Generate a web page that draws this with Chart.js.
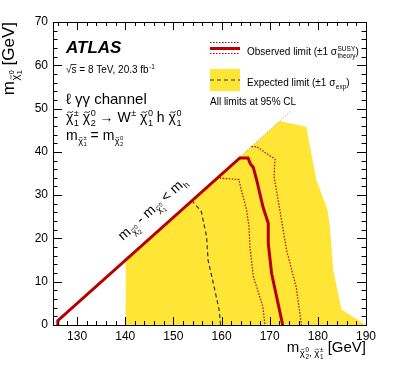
<!DOCTYPE html>
<html>
<head>
<meta charset="utf-8">
<script src="https://cdn.jsdelivr.net/npm/chart.js@4.4.0/dist/chart.umd.min.js"></script>
<style>
  html, body { margin: 0; padding: 0; background: #fff; }
  #wrap { width: 407px; height: 370px; }
</style>
</head>
<body>
<div id="wrap"><canvas id="limit" width="407" height="370"></canvas></div>
<script>
// axis ticks (GeV)
var xTicks = [130, 140, 150, 160, 170, 180, 190];
var yTicks = [0, 10, 20, 30, 40, 50, 60, 70];

// kinematic boundary m(chi2) - m(chi1) = m_h, dotted part
var diagX = [125, 174.5];
var diagY = [0, 49.5];

// observed limit
var obsX = [126, 126, 163.8, 165.5, 166, 166.6, 167.3, 168.6, 169.7, 169.7, 170.4, 172.7];
var obsY = [0, 1, 38.6, 38.6, 37.2, 36.4, 33.5, 27.3, 23.5, 18.9, 11.9, 0];

// observed -1 sigma theory
var obsDnX = [159, 163.6, 164.1, 165.2, 165.7, 165.9, 166.6, 168.6, 169];
var obsDnY = [34, 33.6, 31.2, 26.6, 22.7, 18.1, 11.2, 4.2, 0];

// observed +1 sigma theory
var obsUpX = [166.2, 167.3, 171.1, 170.9, 172.1, 173.5, 175.5, 176.6];
var obsUpY = [41.2, 41.2, 38.3, 34.3, 26.6, 17.3, 8.8, 0];

// expected limit
var expX = [153.8, 155.8, 156.9, 157.2, 158.6, 159.5, 159.8];
var expY = [28.8, 26.2, 20.4, 15, 8.1, 3.5, 0];

// expected +-1 sigma band (upper edge, filled down to 0)
var bandX = [140.1, 140, 139.3, 172.1, 177.6, 179.7, 182, 182.5, 183.2, 184.9, 190];
var bandY = [0, 5, 14.3, 47.1, 45.8, 33.5, 26.6, 22.7, 12.7, 3.6, 0];

var FONT = "'Liberation Sans', Arial, Helvetica, sans-serif";
var RED = '#b50000';
var YELLOW = '#ffe535';

function pts(xs, ys) {
    return xs.map(function(x, i) { return {x: x, y: ys[i]}; });
}

// draws text with nested super/subscripts, returns width
// parts: 'text' | {chi:1} | {sup:[...], sub:[...]}
function rich(ctx, parts, x, y, size, draw) {
    var w = 0;
    parts.forEach(function(p) {
        ctx.font = size + 'px ' + FONT;
        if (typeof p === 'string') {
            if (draw) ctx.fillText(p, x + w, y);
            w += ctx.measureText(p).width;
        } else if (p.chi) {
            var cw = ctx.measureText('χ').width;
            if (draw) {
                ctx.fillText('χ', x + w, y);
                // tilde on top
                var x0 = x + w + cw * 0.2, x1 = x + w + cw * 0.95;
                var ty = y - size * 0.72, amp = size * 0.06;
                ctx.save();
                ctx.strokeStyle = ctx.fillStyle;
                ctx.lineWidth = Math.max(0.6, size * 0.06);
                ctx.setLineDash([]);
                ctx.beginPath();
                ctx.moveTo(x0, ty + amp);
                ctx.bezierCurveTo(x0 + (x1 - x0) * 0.3, ty - amp * 2, x0 + (x1 - x0) * 0.7, ty + amp * 3, x1, ty - amp);
                ctx.stroke();
                ctx.restore();
            }
            w += cw;
        } else {
            var s = size * 0.65, w1 = 0, w2 = 0;
            if (p.sup) w1 = rich(ctx, p.sup, x + w + 0.5, y - size * 0.42, s, draw);
            if (p.sub) w2 = rich(ctx, p.sub, x + w + 0.5, y + size * 0.28, s, draw);
            w += Math.max(w1, w2) + 0.5;
        }
    });
    return w;
}

var CHI = {chi: 1};

var decoPlugin = {
    id: 'atlasDeco',
    afterDraw: function(chart) {
        var ctx = chart.ctx, a = chart.chartArea;
        var xs = chart.scales.x, ys = chart.scales.y;
        ctx.save();
        ctx.fillStyle = '#000';
        ctx.strokeStyle = '#000';
        ctx.textBaseline = 'alphabetic';
        ctx.textAlign = 'left';

        // frame + inward ticks on all sides
        ctx.lineWidth = 1;
        ctx.beginPath();
        var v, p, len;
        for (v = 126; v <= 190; v += 2) {
            p = Math.round(xs.getPixelForValue(v)) + 0.5;
            len = (v % 10 === 0) ? 8 : 4;
            ctx.moveTo(p, a.bottom); ctx.lineTo(p, a.bottom - len);
            ctx.moveTo(p, a.top); ctx.lineTo(p, a.top + len);
        }
        for (v = 0; v <= 70; v += 2) {
            p = Math.round(ys.getPixelForValue(v)) + 0.5;
            len = (v % 10 === 0) ? 9 : 4.5;
            ctx.moveTo(a.left, p); ctx.lineTo(a.left + len, p);
            ctx.moveTo(a.right, p); ctx.lineTo(a.right - len, p);
        }
        ctx.stroke();
        ctx.strokeRect(Math.round(a.left) + 0.5, Math.round(a.top) + 0.5,
            Math.round(a.right - a.left), Math.round(a.bottom - a.top));

        // ATLAS label
        ctx.font = 'italic bold 17px ' + FONT;
        ctx.fillText('ATLAS', 66, 53);

        // sqrt(s) line
        var sw = rich(ctx, ['√'], 66, 73, 10, true);
        var s2 = rich(ctx, ['s'], 66 + sw, 73, 10, true);
        ctx.beginPath();
        ctx.lineWidth = 0.8;
        ctx.moveTo(66 + sw - 1, 64.5); ctx.lineTo(66 + sw + s2, 64.5);
        ctx.stroke();
        rich(ctx, [' = 8 TeV, 20.3 fb', {sup: ['-1']}], 66 + sw + s2, 73, 10, true);

        rich(ctx, ['ℓ γγ channel'], 66, 104, 15, true);
        rich(ctx, [CHI, {sup: ['±'], sub: ['1']}, ' ', CHI, {sup: ['0'], sub: ['2']},
            ' → W', {sup: ['±']}, ' ', CHI, {sup: ['0'], sub: ['1']}, ' h ', CHI, {sup: ['0'], sub: ['1']}],
            66, 122, 14, true);
        rich(ctx, ['m', {sub: [CHI, {sup: ['±'], sub: ['1']}]}, ' = m', {sub: [CHI, {sup: ['0'], sub: ['2']}]}],
            66, 140, 14, true);

        // legend
        ctx.lineWidth = 3;
        ctx.strokeStyle = RED;
        ctx.beginPath(); ctx.moveTo(210, 48.5); ctx.lineTo(240, 48.5); ctx.stroke();
        ctx.lineWidth = 1.2;
        ctx.setLineDash([1.5, 1.5]);
        ctx.beginPath();
        ctx.moveTo(210, 42.5); ctx.lineTo(240, 42.5);
        ctx.moveTo(210, 53.5); ctx.lineTo(240, 53.5);
        ctx.stroke();
        ctx.fillStyle = YELLOW;
        ctx.fillRect(210, 69, 30, 22);
        ctx.strokeStyle = '#333';
        ctx.setLineDash([4, 3]);
        ctx.beginPath(); ctx.moveTo(210, 80); ctx.lineTo(240, 80); ctx.stroke();
        ctx.setLineDash([]);
        ctx.fillStyle = '#000';
        rich(ctx, ['Observed limit (±1 σ', {sup: ['SUSY'], sub: ['theory']}, ')'], 247, 55, 10, true);
        rich(ctx, ['Expected limit (±1 σ', {sub: ['exp']}, ')'], 247, 86, 10, true);
        rich(ctx, ['All limits at 95% CL'], 210, 105, 10, true);

        // kinematic label along the diagonal
        var p1x = xs.getPixelForValue(140), p1y = ys.getPixelForValue(15);
        var p2x = xs.getPixelForValue(160), p2y = ys.getPixelForValue(35);
        var ang = Math.atan2(p2y - p1y, p2x - p1x);
        ctx.save();
        ctx.translate(123, 241);
        ctx.rotate(ang);
        rich(ctx, ['m', {sub: [CHI, {sup: ['0'], sub: ['2']}]}, ' - m', {sub: [CHI, {sup: ['0'], sub: ['1']}]},
            ' < m', {sub: ['h']}], 0, 0, 14, true);
        ctx.restore();

        // axis titles
        var xt = ['m', {sub: [CHI, {sup: ['0'], sub: ['2']}, ', ', CHI, {sup: ['±'], sub: ['1']}]}, ' [GeV]'];
        var xw = rich(ctx, xt, 0, 0, 15, false);
        rich(ctx, xt, a.right - xw, 352, 15, true);

        var yt = ['m', {sub: [CHI, {sup: ['0'], sub: ['1']}]}, ' [GeV]'];
        var yw = rich(ctx, yt, 0, 0, 17, false);
        ctx.save();
        ctx.translate(14, a.top + yw);
        ctx.rotate(-Math.PI / 2);
        rich(ctx, yt, 0, 0, 17, true);
        ctx.restore();

        ctx.restore();
    }
};

var line = function(label, xs, ys, color, width, dash) {
    return {
        label: label,
        data: pts(xs, ys),
        borderColor: color,
        borderWidth: width,
        borderDash: dash,
        pointRadius: 0,
        fill: false,
        tension: 0
    };
};

var datasets = [
    line('Observed', obsX, obsY, RED, 3, []),
    line('Observed +1 sigma', obsUpX, obsUpY, RED, 1.2, [1.5, 1.5]),
    line('Observed -1 sigma', obsDnX, obsDnY, RED, 1.2, [1.5, 1.5]),
    line('Expected', expX, expY, '#333', 1.2, [4, 3]),
    line('Kinematic limit', diagX, diagY, '#999', 1, [1, 2]),
    {
        label: 'Expected +-1 sigma',
        data: pts(bandX, bandY),
        borderColor: 'rgba(0,0,0,0)',
        borderWidth: 0,
        backgroundColor: YELLOW,
        pointRadius: 0,
        fill: 'origin',
        tension: 0
    }
];

var ctx = document.getElementById('limit').getContext('2d');
var chart = new Chart(ctx, {
    type: 'line',
    data: { datasets: datasets },
    options: {
        responsive: false,
        animation: false,
        layout: { padding: { left: 0, top: 22, right: 41, bottom: 0 } },
        plugins: {
            legend: { display: false },
            tooltip: { enabled: false }
        },
        scales: {
            x: {
                type: 'linear',
                min: 125,
                max: 190,
                grid: { display: false, drawTicks: false },
                border: { display: false },
                afterBuildTicks: function(scale) {
                    scale.ticks = xTicks.map(function(v) { return {value: v}; });
                },
                afterFit: function(scale) { scale.height = 45; },
                ticks: {
                    padding: 4,
                    maxRotation: 0,
                    color: '#000',
                    font: { family: FONT, size: 12 }
                }
            },
            y: {
                type: 'linear',
                min: 0,
                max: 70,
                grid: { display: false, drawTicks: false },
                border: { display: false },
                afterBuildTicks: function(scale) {
                    scale.ticks = yTicks.map(function(v) { return {value: v}; });
                },
                afterFit: function(scale) { scale.width = 53; },
                ticks: {
                    padding: 5,
                    color: '#000',
                    font: { family: FONT, size: 12 }
                }
            }
        }
    },
    plugins: [decoPlugin]
});
</script>
</body>
</html>
